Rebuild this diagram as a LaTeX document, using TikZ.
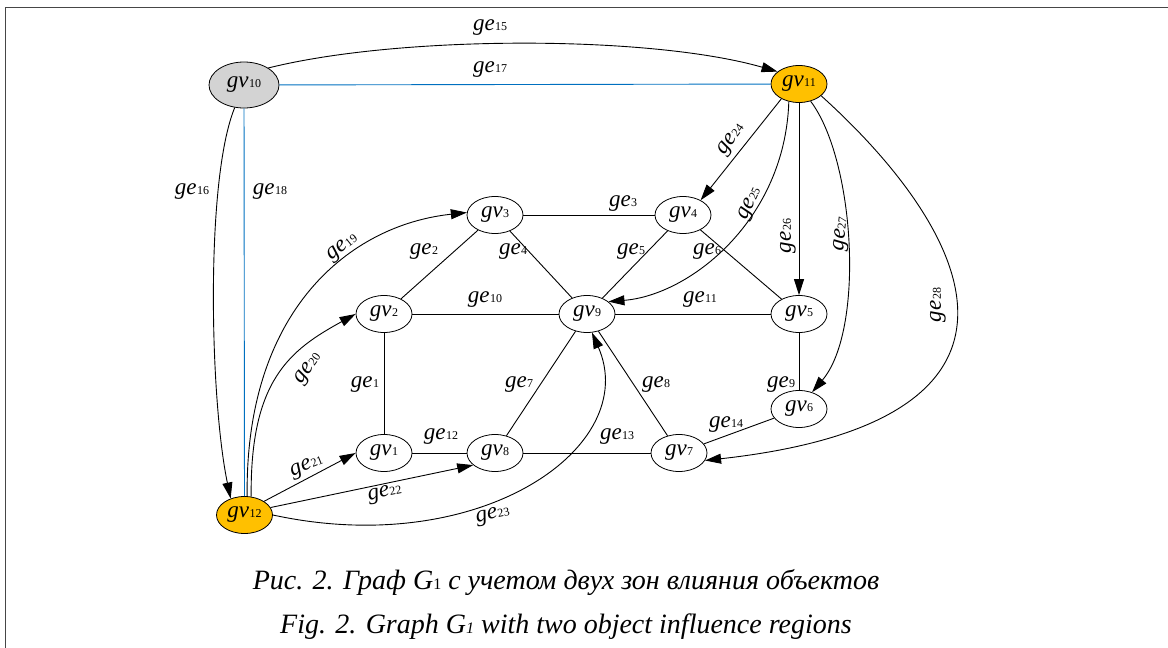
\documentclass[tikz,border=0pt]{standalone}
\usepackage{fontspec}
\setmainfont{Liberation Serif}
\usetikzlibrary{arrows.meta,shapes.geometric}
\definecolor{orangec}{RGB}{255,192,0}
\definecolor{grayc}{RGB}{211,211,211}
\definecolor{bluec}{RGB}{0,112,192}
\definecolor{framec}{RGB}{70,70,70}
\newcommand{\gsub}[2]{\textit{#1}\kern0.3pt{\fontsize{12}{12}\selectfont #2}}
\begin{document}
\begin{tikzpicture}[x=1pt,y=-1pt,
  vtx/.style={ellipse,draw,line width=0.8pt,minimum width=56pt,minimum height=37pt,inner sep=0pt,font=\fontsize{23}{23}\selectfont},
  lbl/.style={font=\fontsize{23}{23}\selectfont,inner sep=0pt},
  edge/.style={line width=0.9pt},
  arr/.style={edge,-{Triangle[length=16pt,width=10pt]}},
  blueedge/.style={line width=0.9pt,draw=bluec},
  captext/.style={font=\fontsize{28}{28}\selectfont\itshape,inner sep=0pt}
]
\useasboundingbox (0,0) rectangle (1168,648);
\draw[framec,line width=1.5pt] (5.5,648) -- (5.5,7.5) -- (1168,7.5);

% vertices
\node[vtx,fill=grayc,minimum width=70pt,minimum height=46pt] (gv10) at (244,85) {\gsub{gv}{10}};
\node[vtx,fill=orangec] (gv11) at (799,84) {\gsub{gv}{11}};
\node[vtx,fill=orangec] (gv12) at (244.5,515) {\gsub{gv}{12}};
\node[vtx] (gv1) at (384,453) {\gsub{gv}{1}};
\node[vtx] (gv2) at (384,314) {\gsub{gv}{2}};
\node[vtx] (gv3) at (495,215) {\gsub{gv}{3}};
\node[vtx] (gv4) at (683,215) {\gsub{gv}{4}};
\node[vtx] (gv5) at (799,314) {\gsub{gv}{5}};
\node[vtx] (gv6) at (799,409) {\gsub{gv}{6}};
\node[vtx] (gv7) at (679,453) {\gsub{gv}{7}};
\node[vtx] (gv8) at (495,453) {\gsub{gv}{8}};
\node[vtx] (gv9) at (587,314) {\gsub{gv}{9}};

% undirected edges
\draw[edge] (gv2) -- (gv1);
\draw[edge] (gv2) -- (gv3);
\draw[edge] (gv3) -- (gv4);
\draw[edge] (gv3) -- (gv9);
\draw[edge] (gv4) -- (gv9);
\draw[edge] (gv4) -- (gv5);
\draw[edge] (gv8) -- (gv9);
\draw[edge] (gv9) -- (gv7);
\draw[edge] (gv5) -- (gv6);
\draw[edge] (gv2) -- (gv9);
\draw[edge] (gv9) -- (gv5);
\draw[edge] (gv1) -- (gv8);
\draw[edge] (gv8) -- (gv7);
\draw[edge] (gv6) -- (gv7);

% blue edges
\draw[blueedge] (gv10) -- (gv11);
\draw[blueedge] (gv10) -- (gv12);

% directed edges
\draw[arr] (gv10.35) .. controls (400,35) and (650,35) .. (gv11.150);
\draw[arr] (gv10) .. controls (205,180) and (210,400) .. (gv12.130);
\draw[arr] (gv12.82) .. controls (245,310) and (350,225) .. (gv3.175);
\draw[arr] (gv12.70) .. controls (250,380) and (290,350) .. (gv2.180);
\draw[arr] (gv12.35) -- (gv1.west);
\draw[arr] (gv12.16) -- (gv8.209);
\draw[arr] (gv12.east) .. controls (480,560) and (642,447) .. (gv9.-75);
\draw[arr] (gv11.-140) -- (gv4.40);
\draw[arr] (gv11.-120) .. controls (785,220) and (690,295) .. (gv9.30);
\draw[arr] (gv11) -- (gv5);
\draw[arr] (gv11.-56) .. controls (855,160) and (865,330) .. (gv6.52);
\draw[arr] (gv11.-28) .. controls (970,230) and (1070,420) .. (gv7.-16);

% labels
\node[lbl] (l1) at (365,385) {\gsub{ge}{1}};
\node[lbl] (l2) at (424,252) {\gsub{ge}{2}};
\node[lbl] (l3) at (623,204) {\gsub{ge}{3}};
\node[lbl] (l4) at (513,252) {\gsub{ge}{4}};
\node[lbl] (l5) at (631,252) {\gsub{ge}{5}};
\node[lbl] (l6) at (707,252) {\gsub{ge}{6}};
\node[lbl] (l7) at (519,385) {\gsub{ge}{7}};
\node[lbl] (l8) at (656,385) {\gsub{ge}{8}};
\node[lbl] (l9) at (781,385) {\gsub{ge}{9}};
\node[lbl] (l10) at (485,300) {\gsub{ge}{10}};
\node[lbl] (l11) at (700,300) {\gsub{ge}{11}};
\node[lbl] (l12) at (441,437) {\gsub{ge}{12}};
\node[lbl] (l13) at (617,437) {\gsub{ge}{13}};
\node[lbl] (l14) at (726,425) {\gsub{ge}{14}};
\node[lbl] (l15) at (490,28) {\gsub{ge}{15}};
\node[lbl] (l16) at (192,192) {\gsub{ge}{16}};
\node[lbl] (l17) at (490,70) {\gsub{ge}{17}};
\node[lbl] (l18) at (270,192) {\gsub{ge}{18}};
\node[lbl,rotate=38] (l19) at (343,248) {\gsub{ge}{19}};
\node[lbl,rotate=55] (l20) at (309,369) {\gsub{ge}{20}};
\node[lbl,rotate=22] (l21) at (307,467) {\gsub{ge}{21}};
\node[lbl,rotate=11] (l22) at (385,494) {\gsub{ge}{22}};
\node[lbl,rotate=11] (l23) at (493,516) {\gsub{ge}{23}};
\node[lbl,rotate=55] (l24) at (732,140) {\gsub{ge}{24}};
\node[lbl,rotate=66] (l25) at (751,204) {\gsub{ge}{25}};
\node[lbl,rotate=90] (l26) at (788,236) {\gsub{ge}{26}};
\node[lbl,rotate=84] (l27) at (842,234) {\gsub{ge}{27}};
\node[lbl,rotate=90] (l28) at (938,305) {\gsub{ge}{28}};

% caption
\node[captext] (cap1) at (566,582) {Рис. 2. Граф G{\upshape\fontsize{16}{16}\selectfont 1} с учетом двух зон влияния объектов};
\node[captext] (cap2) at (566,627) {Fig. 2. Graph G{\fontsize{16}{16}\selectfont 1} with two object influence regions};
\end{tikzpicture}
\end{document}
